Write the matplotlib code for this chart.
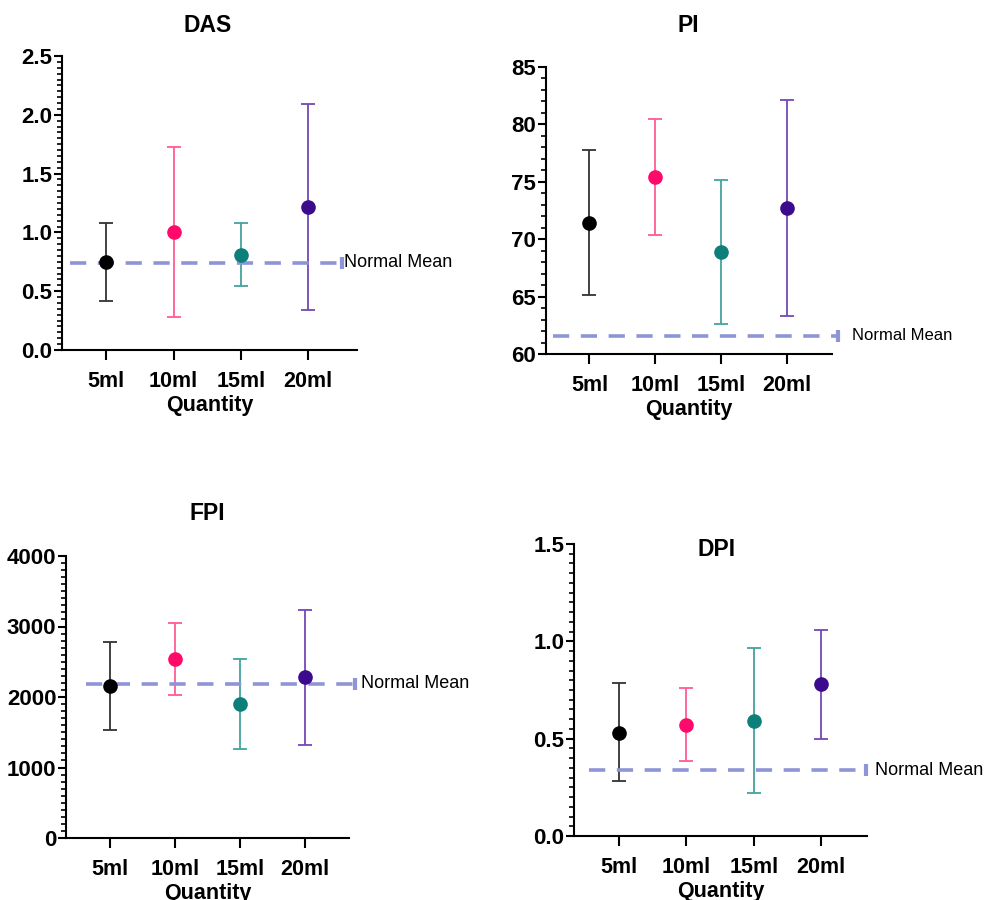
import matplotlib.pyplot as plt
from matplotlib.ticker import MultipleLocator

plt.rcParams['font.family'] = ['Liberation Sans', 'DejaVu Sans']

quantities = ["5ml", "10ml", "15ml", "20ml"]
point_colors = ["#000000", "#ff0a6a", "#0d7f7a", "#3c0a8c"]
bar_colors = ["#333333", "#ff5c95", "#45a39e", "#7448b3"]

das_mean = [0.75, 1.0, 0.81, 1.22]
das_low = [0.42, 0.28, 0.54, 0.34]
das_high = [1.08, 1.73, 1.08, 2.09]
das_normal = 0.74

pi_mean = [71.4, 75.4, 68.9, 72.7]
pi_low = [65.1, 70.4, 62.6, 63.3]
pi_high = [77.8, 80.5, 75.2, 82.1]
pi_normal = 61.6

fpi_mean = [2155, 2545, 1895, 2280]
fpi_low = [1525, 2035, 1260, 1320]
fpi_high = [2785, 3055, 2535, 3235]
fpi_normal = 2185

dpi_mean = [0.53, 0.57, 0.59, 0.78]
dpi_low = [0.28, 0.385, 0.22, 0.50]
dpi_high = [0.785, 0.76, 0.965, 1.06]
dpi_normal = 0.337

fig = plt.figure(figsize=(9.85, 9.0), dpi=100)

W, H = 985.0, 900.0


def px_axes(left, top, right, bottom):
    return fig.add_axes([left / W, 1 - bottom / H, (right - left) / W, (bottom - top) / H])


panels = [
    dict(title="DAS", tpos=(208, 25), box=(62, 56, 357, 350), mean=das_mean, low=das_low, high=das_high,
         normal=das_normal, ylim=(0, 2.5), major=0.5, minor=0.05, fmt="{:.1f}",
         line=(-0.54, 3.5), xlim=(-0.66, 3.73), tgap=0.03, nsize=13),
    dict(title="PI", tpos=(688, 25), box=(546, 67, 832, 354), mean=pi_mean, low=pi_low, high=pi_high,
         normal=pi_normal, ylim=(60, 85), major=5, minor=1, fmt="{:.0f}",
         line=(-0.55, 3.77), xlim=(-0.66, 3.68), tgap=0.22, nsize=12),
    dict(title="FPI", tpos=(207, 514), box=(66, 556, 349, 838), mean=fpi_mean, low=fpi_low, high=fpi_high,
         normal=fpi_normal, ylim=(0, 4000), major=1000, minor=100, fmt="{:.0f}",
         line=(-0.37, 3.78), xlim=(-0.68, 3.68), tgap=0.08, nsize=13),
    dict(title="DPI", tpos=(717, 550), box=(574, 544, 867, 836), mean=dpi_mean, low=dpi_low, high=dpi_high,
         normal=dpi_normal, ylim=(0, 1.5), major=0.5, minor=0.05, fmt="{:.1f}",
         line=(-0.44, 3.66), xlim=(-0.67, 3.68), tgap=0.14, nsize=13),
]

for p in panels:
    ax = px_axes(*p["box"])
    for i in range(len(quantities)):
        m = p["mean"][i]
        ax.errorbar(i, m, yerr=[[m - p["low"][i]], [p["high"][i] - m]], fmt="none",
                    ecolor=bar_colors[i], elinewidth=1.3, capsize=5, capthick=1.3, zorder=2)
        ax.plot(i, m, "o", color=point_colors[i], markersize=9.5, zorder=4)

    x0, x1 = p["line"]
    ax.plot([x0, x1], [p["normal"], p["normal"]], color="#8e95d6", lw=2.6,
            dashes=(4.5, 3.2), clip_on=False, zorder=3)
    ax.plot([x1], [p["normal"]], marker="|", color="#8e95d6", markersize=8, mew=3,
            clip_on=False, zorder=3)
    ax.text(x1 + p["tgap"], p["normal"], "Normal Mean", fontsize=p["nsize"], va="center",
            ha="left", clip_on=False)

    ax.set_xlim(*p["xlim"])
    ax.set_ylim(*p["ylim"])
    ax.set_xticks(range(len(quantities)))
    ax.set_xticklabels(quantities, fontsize=15.5, fontweight="bold")
    ax.yaxis.set_major_locator(MultipleLocator(p["major"]))
    ax.yaxis.set_minor_locator(MultipleLocator(p["minor"]))
    ax.set_yticklabels([p["fmt"].format(v) for v in ax.get_yticks()], fontsize=16, fontweight="bold")
    ax.set_ylim(*p["ylim"])
    ax.set_xlabel("Quantity", fontsize=15.5, fontweight="bold", labelpad=2)

    for s in ["top", "right"]:
        ax.spines[s].set_visible(False)
    for s in ["left", "bottom"]:
        ax.spines[s].set_linewidth(1.5)
    ax.tick_params(axis="y", which="major", length=6, width=1.5, pad=1)
    ax.tick_params(axis="y", which="minor", length=3.5, width=1.2)
    ax.tick_params(axis="x", which="major", length=7, width=1.5, pad=8)

    fig.text(p["tpos"][0] / W, 1 - p["tpos"][1] / H, p["title"], fontsize=16.5,
             fontweight="bold", ha="center", va="center")

fig.savefig("out.png", dpi=100)
